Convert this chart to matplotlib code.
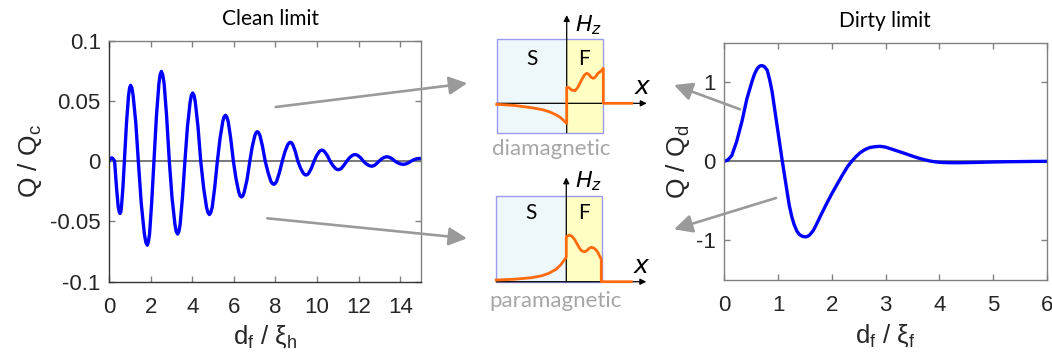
import matplotlib
matplotlib.use("Agg")
import matplotlib.pyplot as plt
from matplotlib.patches import Rectangle, FancyArrowPatch, ArrowStyle

# ---------------- data ----------------
clean_x = [0.00, 0.04, 0.09, 0.13, 0.18, 0.22, 0.27, 0.36, 0.44, 0.53, 0.60, 0.67,
           0.74, 0.84, 0.94, 1.04, 1.16, 1.29, 1.41, 1.55, 1.70, 1.84, 1.95, 2.05,
           2.16, 2.28, 2.40, 2.52, 2.65, 2.77, 2.90, 3.03, 3.17, 3.30, 3.42, 3.53,
           3.65, 3.77, 3.90, 4.02, 4.15, 4.28, 4.41, 4.55, 4.69, 4.83, 4.96, 5.08,
           5.21, 5.34, 5.47, 5.60, 5.73, 5.85, 5.98, 6.11, 6.24, 6.37, 6.50, 6.64,
           6.77, 6.89, 7.01, 7.13, 7.26, 7.38, 7.51, 7.65, 7.78, 7.92, 8.06, 8.19,
           8.33, 8.46, 8.59, 8.72, 8.84, 8.96, 9.08, 9.21, 9.34, 9.47, 9.60, 9.73,
           9.86, 9.98, 10.11, 10.23, 10.36, 10.50, 10.63, 10.76, 10.89, 11.02, 11.16, 11.29,
           11.43, 11.56, 11.70, 11.83, 11.96, 12.10, 12.23, 12.36, 12.50, 12.63, 12.75, 12.86,
           12.98, 13.11, 13.23, 13.36, 13.49, 13.62, 13.75, 13.88, 14.02, 14.15, 14.27, 14.40,
           14.52, 14.65, 14.79, 14.92, 15.00]
clean_q = [0.0, 0.0014, 0.0024, 0.0028, 0.0024, 0.0014, 0.0, -0.0217, -0.0376, -0.0434, -0.0376, -0.0217,
           0.0, 0.0315, 0.0546, 0.0630, 0.0546, 0.0315, 0.0, -0.0349, -0.0604, -0.0697, -0.0604, -0.0349,
           0.0, 0.0373, 0.0645, 0.0745, 0.0645, 0.0373, 0.0, -0.0303, -0.0524, -0.0605, -0.0524, -0.0303,
           0.0, 0.0283, 0.0490, 0.0566, 0.0490, 0.0283, 0.0, -0.0222, -0.0384, -0.0443, -0.0384, -0.0222,
           0.0, 0.0191, 0.0330, 0.0381, 0.0330, 0.0191, 0.0, -0.0149, -0.0257, -0.0297, -0.0257, -0.0149,
           0.0, 0.0123, 0.0212, 0.0245, 0.0212, 0.0123, 0.0, -0.0096, -0.0166, -0.0192, -0.0166, -0.0096,
           0.0, 0.0079, 0.0136, 0.0157, 0.0136, 0.0079, 0.0, -0.0058, -0.0100, -0.0115, -0.0100, -0.0058,
           0.0, 0.0046, 0.0080, 0.0092, 0.0080, 0.0046, 0.0, -0.0035, -0.0061, -0.0070, -0.0061, -0.0035,
           0.0, 0.0028, 0.0048, 0.0055, 0.0048, 0.0028, 0.0, -0.0021, -0.0036, -0.0042, -0.0036, -0.0021,
           0.0, 0.0019, 0.0032, 0.0037, 0.0032, 0.0019, 0.0, -0.0013, -0.0023, -0.0026, -0.0023, -0.0013,
           0.0, 0.0012, 0.0020, 0.0023, 0.0022]
# extra readings close to each crest / trough
clean_crest_x = [0.49, 0.57, 0.99, 1.10, 1.77, 1.89, 2.46, 2.58, 3.23, 3.36, 3.96, 4.09,
                 4.76, 4.89, 5.53, 5.66, 6.30, 6.44, 7.07, 7.19, 7.85, 7.99, 8.66, 8.78,
                 9.41, 9.54, 10.17, 10.30, 10.96, 11.09, 11.76, 11.90]
clean_crest_q = [-0.0419, -0.0419, 0.0609, 0.0609, -0.0673, -0.0673, 0.0720, 0.0720,
                 -0.0584, -0.0584, 0.0547, 0.0547, -0.0428, -0.0428, 0.0368, 0.0368,
                 -0.0287, -0.0287, 0.0237, 0.0237, -0.0185, -0.0185, 0.0152, 0.0152,
                 -0.0111, -0.0111, 0.0089, 0.0089, -0.0068, -0.0068, 0.0053, 0.0053]

dirty_x = [0.00, 0.07, 0.14, 0.23, 0.33, 0.42, 0.52, 0.56, 0.61, 0.65, 0.675, 0.70, 0.725, 0.75,
           0.80, 0.845, 0.89, 0.98, 1.08, 1.17, 1.21, 1.26, 1.30, 1.35, 1.39, 1.43, 1.47, 1.51,
           1.55, 1.59, 1.66, 1.72, 1.79, 1.90, 2.00, 2.10, 2.20, 2.30, 2.37, 2.45, 2.53, 2.62,
           2.71, 2.80, 2.90, 3.00, 3.09, 3.18, 3.27, 3.37, 3.46, 3.55, 3.65, 3.74, 3.83, 3.92,
           4.02, 4.20, 4.39, 4.58, 4.76, 5.00, 5.25, 5.50, 5.75, 6.00]
dirty_q = [0.0, 0.02, 0.075, 0.25, 0.51, 0.79, 1.02, 1.10, 1.17, 1.20, 1.208, 1.21, 1.205, 1.195,
           1.15, 1.03, 0.88, 0.46, 0.0, -0.39, -0.56, -0.71, -0.80, -0.88, -0.92, -0.94, -0.95, -0.955,
           -0.948, -0.93, -0.87, -0.79, -0.69, -0.54, -0.41, -0.29, -0.17, -0.06, 0.0, 0.06, 0.11, 0.15,
           0.175, 0.185, 0.19, 0.18, 0.16, 0.14, 0.12, 0.097, 0.076, 0.055, 0.034, 0.018, 0.004, -0.006,
           -0.013, -0.017, -0.017, -0.015, -0.012, -0.008, -0.005, -0.003, -0.001, 0.0]

clean_xticks = [0, 2, 4, 6, 8, 10, 12, 14]
clean_yticks = [-0.1, -0.05, 0, 0.05, 0.1]
clean_ylabels = ["-0.1", "-0.05", "0", "0.05", "0.1"]
dirty_xticks = [0, 1, 2, 3, 4, 5, 6]
dirty_yticks = [-1, 0, 1]
dirty_ylabels = ["-1", "0", "1"]

# schematic field profiles (x in units of S-layer width, interface at 0)
dia_x = [-1.0, -0.75, -0.5, -0.35, -0.25, -0.15, -0.08, 0.0, 0.0, 0.03, 0.07, 0.119, 0.16, 0.21,
         0.25, 0.286, 0.32, 0.35, 0.38, 0.41, 0.447, 0.49, 0.523, 0.523, 0.929]
dia_h = [-0.014, -0.03, -0.063, -0.09, -0.12, -0.165, -0.21, -0.286, 0.229, 0.225, 0.19, 0.18, 0.23, 0.33,
         0.40, 0.43, 0.41, 0.37, 0.357, 0.375, 0.43, 0.46, 0.50, 0.0, 0.0]
para_x = [-1.0, -0.75, -0.5, -0.35, -0.25, -0.15, -0.08, 0.0, 0.0, 0.04, 0.08, 0.124, 0.16, 0.196,
          0.23, 0.267, 0.30, 0.324, 0.355, 0.386, 0.42, 0.45, 0.48, 0.50, 0.50, 0.929]
para_h = [0.024, 0.035, 0.057, 0.085, 0.12, 0.175, 0.24, 0.349, 0.64, 0.667, 0.65, 0.596, 0.53, 0.467,
          0.435, 0.429, 0.45, 0.475, 0.491, 0.485, 0.46, 0.42, 0.36, 0.32, 0.0, 0.0]

# ---------------- figure ----------------
W, H = 1052, 356
plt.rcParams["font.family"] = ["Liberation Sans", "DejaVu Sans"]
plt.rcParams["mathtext.default"] = "regular"
fig = plt.figure(figsize=(W / 100, H / 100), dpi=100)

TICKC = "#262626"
SPINEC = "#808080"
BLUE = "#0000ff"
ORANGE = "#ff6a0d"
GRAY_ARROW = "#9a9a9a"


def px_rect(x0, y0, x1, y1):
    return [x0 / W, 1 - y1 / H, (x1 - x0) / W, (y1 - y0) / H]


def style_axes(ax):
    for s in ax.spines.values():
        s.set_color(SPINEC)
        s.set_linewidth(1.0)
    ax.tick_params(direction="in", top=True, right=True, length=4, width=1,
                   color=SPINEC, labelcolor=TICKC, labelsize=16)
    ax.tick_params(axis="y", pad=6)
    ax.tick_params(axis="x", pad=11)


# left: clean limit
cl = sorted(zip(clean_x + clean_crest_x, clean_q + clean_crest_q))
ax1 = fig.add_axes(px_rect(109, 40.7, 421, 281.7))
ax1.axhline(0, color="#6e6e6e", lw=1.3, zorder=1)
ax1.plot([p[0] for p in cl], [p[1] for p in cl], color=BLUE, lw=2.4, zorder=2,
         solid_joinstyle="round")
ax1.set_xlim(0, 15)
ax1.set_ylim(-0.1, 0.1)
ax1.set_xticks(clean_xticks)
ax1.set_xticklabels([str(t) for t in clean_xticks])
ax1.set_yticks(clean_yticks)
ax1.set_yticklabels(clean_ylabels)
style_axes(ax1)
ax1.spines["left"].set_color("#333333")
ax1.spines["bottom"].set_color("#333333")
ax1.set_ylabel(r"Q / Q$_{c}$", fontsize=19, color=TICKC, labelpad=4)
ax1.set_xlabel(r"d$_{f}$ / ξ$_{h}$", fontsize=18.5, color=TICKC, labelpad=4)
fig.text(270 / W, 1 - 19 / H, "Clean limit", fontsize=15, family="Lato",
         ha="center", va="center", color="black")

# right: dirty limit
ax2 = fig.add_axes(px_rect(724.3, 42.7, 1046.7, 280))
ax2.axhline(0, color="#6e6e6e", lw=1.3, zorder=1)
ax2.plot(dirty_x, dirty_q, color=BLUE, lw=2.4, zorder=2, solid_joinstyle="round")
ax2.set_xlim(0, 6)
ax2.set_ylim(-1.5, 1.5)
ax2.set_xticks(dirty_xticks)
ax2.set_xticklabels([str(t) for t in dirty_xticks])
ax2.set_yticks(dirty_yticks)
ax2.set_yticklabels(dirty_ylabels)
style_axes(ax2)
ax2.set_ylabel(r"Q / Q$_{d}$", fontsize=19, color=TICKC, labelpad=3)
ax2.set_xlabel(r"d$_{f}$ / ξ$_{f}$", fontsize=18.5, color=TICKC, labelpad=4)
fig.text(885 / W, 1 - 21 / H, "Dirty limit", fontsize=15, family="Lato",
         ha="center", va="center", color="black")


# insets
def inset(rect_px, xlim, ylim, box_bottom, box_top, f_right, arrow_top, cx, ch,
          s_pos, hz_pos, x_pos):
    ax = fig.add_axes(px_rect(*rect_px))
    ax.set_xlim(*xlim)
    ax.set_ylim(*ylim)
    ax.axis("off")
    ax.add_patch(Rectangle((-1.0, box_bottom), 1.0, box_top - box_bottom,
                           facecolor="#eef7fa", edgecolor="none", zorder=1))
    ax.add_patch(Rectangle((0.0, box_bottom), f_right, box_top - box_bottom,
                           facecolor="#ffffc4", edgecolor="none", zorder=1))
    ax.add_patch(Rectangle((-1.0, box_bottom), 1.0 + f_right, box_top - box_bottom,
                           facecolor="none", edgecolor="#9a9af0", lw=1.0, zorder=2))
    ax.annotate("", xy=(1.143, 0), xytext=(-1.0, 0),
                arrowprops=dict(arrowstyle="-|>", color="black", lw=0.9,
                                mutation_scale=9, shrinkA=0, shrinkB=0), zorder=3)
    ax.annotate("", xy=(0, arrow_top), xytext=(0, box_bottom),
                arrowprops=dict(arrowstyle="-|>", color="black", lw=0.9,
                                mutation_scale=9, shrinkA=0, shrinkB=0), zorder=3)
    ax.plot(cx, ch, color=ORANGE, lw=2.0, zorder=4, solid_joinstyle="round")
    ax.text(-0.5, s_pos, "S", family="Lato", fontsize=15, ha="center", va="center")
    ax.text(0.25, s_pos, "F", family="Lato", fontsize=15, ha="center", va="center")
    ax.text(hz_pos[0], hz_pos[1], r"$\mathit{H}_{\mathit{z}}$", fontsize=16,
            ha="left", va="center")
    ax.text(x_pos[0], x_pos[1], "x", fontsize=18, style="italic",
            family="DejaVu Sans", ha="center", va="center")
    return ax


inset((490, 10, 660, 140), (-1.096, 1.333), (-0.524, 1.333), -0.42, 0.914, 0.523, 1.261,
      dia_x, dia_h, 0.629, (0.12, 1.12), (1.07, 0.24))
inset((490, 165, 660, 300), (-1.09, 1.339), (-0.261, 1.667), 0.0, 1.229, 0.506, 1.49,
      para_x, para_h, 0.977, (0.12, 1.43), (1.07, 0.23))

fig.text(551 / W, 1 - 149 / H, "diamagnetic", family="Lato", fontsize=16,
         color="#a6a6a6", ha="center", va="center")
fig.text(556 / W, 1 - 301 / H, "paramagnetic", family="Lato", fontsize=16,
         color="#a6a6a6", ha="center", va="center")

# grey arrows
arrows_px = [((275.7, 107), (467.3, 83.3)),
             ((267.3, 218.3), (467, 238.3)),
             ((740, 109.3), (674, 85)),
             ((776, 198), (674, 229.3))]
for (a, b) in arrows_px:
    fa = FancyArrowPatch((a[0] / W, 1 - a[1] / H), (b[0] / W, 1 - b[1] / H),
                         transform=fig.transFigure,
                         arrowstyle=ArrowStyle("-|>", head_length=1.0, head_width=0.5),
                         mutation_scale=11, color=GRAY_ARROW, lw=1.9,
                         shrinkA=0, shrinkB=0)
    fig.add_artist(fa)

fig.savefig("out.png", dpi=100)
